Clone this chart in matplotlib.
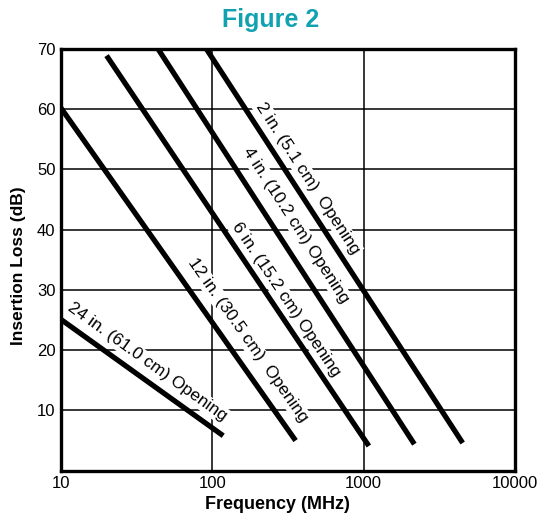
import numpy as np
import matplotlib

matplotlib.use("Agg")
import matplotlib.pyplot as plt  # noqa: E402

plt.rcParams["font.family"] = ["Liberation Sans", "DejaVu Sans"]

# Opening size curves: straight lines on log-frequency axis
labels = [
    "24 in. (61.0 cm) Opening",
    "12 in. (30.5 cm)  Opening",
    "6 in. (15.2 cm) Opening",
    "4 in. (10.2 cm) Opening",
    "2 in. (5.1 cm)  Opening",
]
freq_start = [10, 10, 20, 43.8, 91.4]
loss_start = [25.1, 60.2, 68.9, 70, 70]
freq_end = [118, 355, 1082, 2163, 4510]
loss_end = [5.8, 5.0, 4.1, 4.4, 4.6]

# where each caption sits (freq, dB)
label_freq = [36.9, 171, 305, 355, 427]
label_loss = [18.1, 21.7, 28.4, 40.8, 48.6]

x_ticks = [10, 100, 1000, 10000]
y_ticks = [10, 20, 30, 40, 50, 60, 70]

fig = plt.figure(figsize=(5.44, 5.16), dpi=100)
ax = fig.add_axes([61 / 544, 45.3 / 516, 454 / 544, 421.7 / 516])
ax.set_xscale("log")
ax.set_xlim(10, 10000)
ax.set_ylim(0, 70)

ax.set_xticks(x_ticks)
ax.set_xticklabels([str(t) for t in x_ticks])
ax.set_yticks(y_ticks)
ax.minorticks_off()
ax.tick_params(length=0, labelsize=12, pad=4)
ax.grid(True, color="black", linewidth=1.1, zorder=0.5)
ax.set_axisbelow(True)
for s in ax.spines.values():
    s.set_linewidth(2.4)
    s.set_zorder(3)

for f0, l0, f1, l1 in zip(freq_start, loss_start, freq_end, loss_end):
    ax.plot([f0, f1], [l0, l1], color="black", linewidth=3.8,
            solid_capstyle="butt", zorder=2, clip_on=True)

fig.canvas.draw()
for i, lab in enumerate(labels):
    p0 = ax.transData.transform((freq_start[i], loss_start[i]))
    p1 = ax.transData.transform((freq_end[i], loss_end[i]))
    ang = np.degrees(np.arctan2(p1[1] - p0[1], p1[0] - p0[0]))
    ax.text(label_freq[i], label_loss[i], lab, rotation=ang,
            rotation_mode="anchor", ha="center", va="center", fontsize=12.5,
            zorder=1, bbox=dict(facecolor="white", edgecolor="none", pad=1.0))

ax.set_xlabel("Frequency (MHz)", fontsize=13, fontweight="bold")
ax.xaxis.set_label_coords((277 - 61) / 454, -0.06)
ax.set_ylabel("Insertion Loss (dB)", fontsize=12.5, fontweight="bold")
ax.yaxis.set_label_coords(-0.076, (471 - 266) / 421.7)
fig.text(271 / 544, 1 - 20 / 516, "Figure 2", ha="center", va="center",
         fontsize=18, fontweight="bold", color="#11a2b2")

fig.savefig("out.png", dpi=100)
